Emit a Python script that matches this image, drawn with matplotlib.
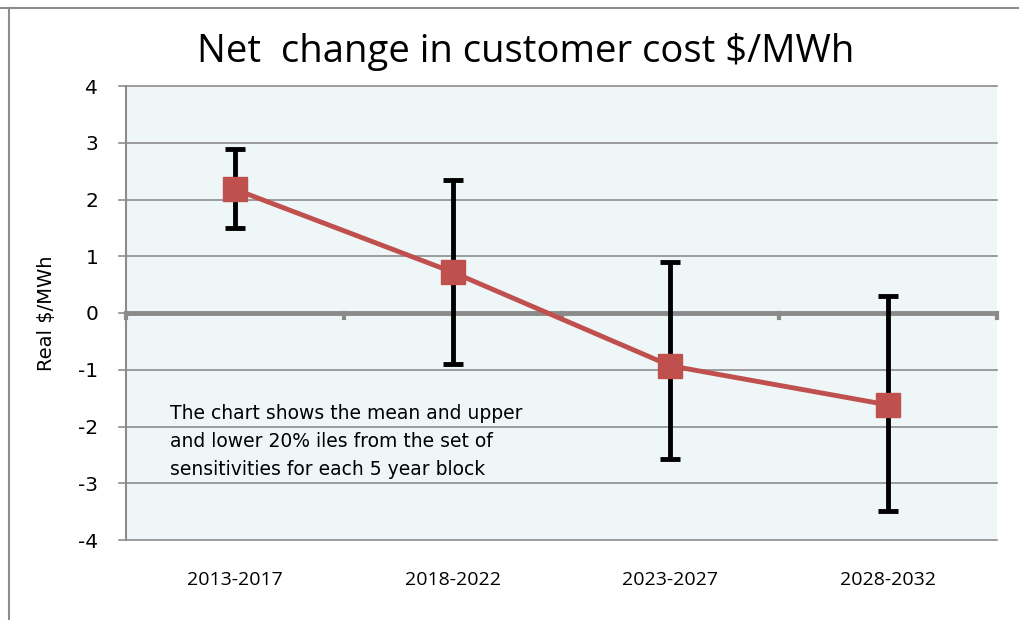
import numpy as np
import matplotlib.pyplot as plt
from matplotlib.lines import Line2D

# Data
periods = ["2013-2017", "2018-2022", "2023-2027", "2028-2032"]
mean_cost = [2.18, 0.72, -0.93, -1.62]
upper_20 = [2.89, 2.34, 0.90, 0.30]
lower_20 = [1.50, -0.90, -2.57, -3.49]

W, H = 1019, 620
fig = plt.figure(figsize=(W / 100, H / 100), dpi=100)
ax = fig.add_axes([126 / W, 1 - 540 / H, (997 - 126) / W, (540 - 86) / H])
ax.set_facecolor("#eef6f8")

x = np.arange(len(periods))
mean_arr = np.array(mean_cost)
yerr = [mean_arr - np.array(lower_20), np.array(upper_20) - mean_arr]

ax.set_xlim(-0.5, len(periods) - 0.5)
ax.set_ylim(-4, 4)

# Gridlines (extend slightly left as tick marks)
for yv in range(-4, 5):
    ax.plot([-0.53, len(periods) - 0.5], [yv, yv], color="#8c8c8c", lw=1.2,
            clip_on=False, zorder=1)
# Zero line with category ticks
ax.axhline(0, color="#8a8a8a", lw=3.5, zorder=2)
for xb in np.arange(-0.5, len(periods), 1.0):
    ax.plot([xb, xb], [0, -0.08], color="#8a8a8a", lw=3, zorder=2,
            clip_on=False)

ax.errorbar(x, mean_cost, yerr=yerr, fmt="none", ecolor="black", elinewidth=3.5,
            capsize=7, capthick=3.5, zorder=3)
ax.plot(x, mean_cost, color="#c0504d", lw=3.5, marker="s", markersize=17,
        markerfacecolor="#c0504d", markeredgecolor="#c0504d", zorder=4)

for s in ["top", "right", "bottom"]:
    ax.spines[s].set_visible(False)
ax.spines["left"].set_color("#8c8c8c")
ax.spines["left"].set_linewidth(1.5)

ax.set_yticks(range(-4, 5))
ax.set_yticklabels([str(v) for v in range(-4, 5)], fontsize=14.5)
ax.tick_params(axis="y", length=0, pad=20)
ax.set_xticks(x)
ax.set_xticklabels(periods, fontsize=14, fontfamily="Open Sans")
ax.tick_params(axis="x", length=0, pad=22)

ax.set_ylabel("Real $/MWh", fontsize=14, labelpad=16)

fig.text(526 / W, 1 - 52 / H, "Net  change in customer cost $/MWh", ha="center",
         va="center", fontsize=27.5, fontfamily="Open Sans")

ax.text(-0.298, -1.6, "The chart shows the mean and upper\n"
        "and lower 20% iles from the set of\n"
        "sensitivities for each 5 year block",
        fontsize=13.5, va="top", ha="left", linespacing=1.62)

# outer frame (top and left only)
fig.add_artist(Line2D([0, 1], [1 - 8 / H, 1 - 8 / H], color="#8c8c8c", lw=1.5))
fig.add_artist(Line2D([9 / W, 9 / W], [0, 1 - 8 / H], color="#8c8c8c", lw=1.5))

fig.savefig("out.png", dpi=100)
